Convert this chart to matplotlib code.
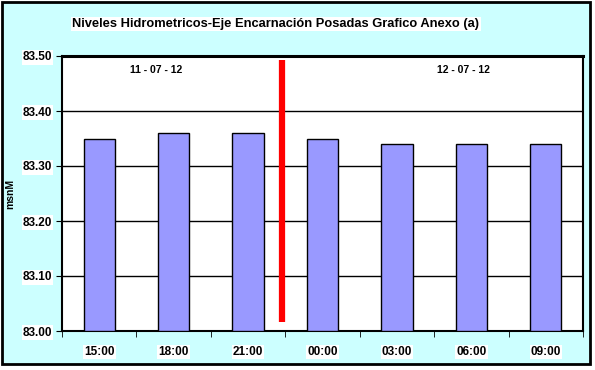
import matplotlib.pyplot as plt
from matplotlib.patches import Rectangle

# hydrometric levels, Encarnacion - Posadas
hours = ['15:00', '18:00', '21:00', '00:00', '03:00', '06:00', '09:00']
levels = [83.35, 83.36, 83.36, 83.35, 83.34, 83.34, 83.34]
yticks = [83.00, 83.10, 83.20, 83.30, 83.40, 83.50]
day_labels = ['11 - 07 - 12', '12 - 07 - 12']
day_label_x = [0.76, 4.89]
day_split = 2.45

plt.rcParams['font.family'] = ['Liberation Sans', 'DejaVu Sans']

W, H = 595, 370
fig = plt.figure(figsize=(W / 100, H / 100), dpi=100)
fig.patch.set_facecolor('white')

# cyan chart frame
frame = Rectangle((2 / W, 1 - 364 / H), 588 / W, 362 / H, transform=fig.transFigure,
                  facecolor='#CCFFFF', edgecolor='black', linewidth=2, zorder=-10)
fig.patches.append(frame)

ax = fig.add_axes([62 / W, 1 - 331 / H, 521 / W, 275 / H])
ax.set_facecolor('white')

x = list(range(len(hours)))
ax.bar(x, [v - 83.0 for v in levels], bottom=83.0, width=0.42,
       color='#9999FF', edgecolor='black', linewidth=1, zorder=3)

ax.set_xlim(-0.5, len(hours) - 0.5)
ax.set_ylim(83.0, 83.5)
ax.set_yticks(yticks)
ax.set_yticklabels([f'{t:.2f}' for t in yticks])
ax.yaxis.grid(True, color='black', linewidth=1)
ax.set_axisbelow(True)

ax.set_xticks(x)
ax.set_xticklabels(hours)
ax.set_xticks([i - 0.5 for i in range(len(hours) + 1)], minor=True)
ax.tick_params(axis='x', which='major', length=0, pad=11)
ax.tick_params(axis='x', which='minor', length=4, direction='out')
ax.tick_params(axis='y', length=4, direction='out', pad=3)

for lab in ax.get_xticklabels() + ax.get_yticklabels():
    lab.set_fontsize(8.5)
    lab.set_fontweight('bold')
    lab.set_bbox(dict(facecolor='white', edgecolor='none', pad=0.8))

for s in ax.spines.values():
    s.set_linewidth(1.5)
ax.spines['top'].set_linewidth(2.2)

ax.set_ylabel('msnM', fontsize=7.5, fontweight='bold')
ax.yaxis.set_label_coords(-0.09, 0.5)

# day separator
ax.plot([day_split, day_split], [83.016, 83.493], color='red', linewidth=4.5,
        solid_capstyle='butt', zorder=5)

for lbl, lx in zip(day_labels, day_label_x):
    ax.text(lx, 83.475, lbl, fontsize=7.5, fontweight='bold', ha='center', va='center')

fig.text(276 / W, 1 - 24 / H, 'Niveles Hidrometricos-Eje Encarnación Posadas Grafico Anexo (a)',
         ha='center', va='center', fontsize=9.3, fontweight='bold',
         bbox=dict(facecolor='white', edgecolor='none', pad=1))

fig.savefig('out.png', dpi=100)
